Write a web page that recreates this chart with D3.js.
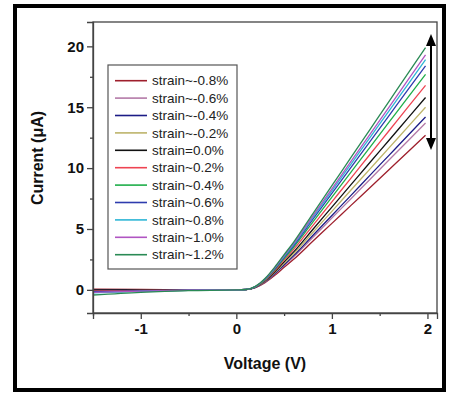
<!DOCTYPE html>
<html><head><meta charset="utf-8">
<script src="https://cdn.jsdelivr.net/npm/d3@7"></script>
<style>body{margin:0;background:#fff}svg{display:block}text{font-family:"Liberation Sans",Arial,sans-serif}</style>
</head><body><svg id="c" width="449" height="395"></svg>
<script>
const voltages = [-1.5, -1.0, -0.5, 0, 0.1, 0.2, 0.3, 0.4, 0.5, 0.6, 0.8, 1.0, 1.2, 1.4, 1.6, 1.8, 1.98];
const seriesNames = ["strain~-0.8%","strain~-0.6%","strain~-0.4%","strain~-0.2%","strain=0.0%","strain~0.2%","strain~0.4%","strain~0.6%","strain~0.8%","strain~1.0%","strain~1.2%"];
const seriesColors = ["#9e1f2c","#b47aa8","#1c1c86","#bdb46a","#111111","#ee4452","#1fae4a","#2e3cae","#2fb6d6","#b055c2","#2a8a55"];
const sM08 = [0.05,0.03,0.02,0,0.02,0.18,0.59,1.18,1.85,2.51,3.99,5.46,6.94,8.41,9.89,11.37,12.7];
const sM06 = [0.0,0,0,0,0.02,0.2,0.64,1.28,1.99,2.71,4.3,5.9,7.49,9.09,10.68,12.27,13.7];
const sM04 = [-0.05,-0.03,0,0,0.02,0.21,0.66,1.32,2.07,2.81,4.46,6.11,7.76,9.42,11.07,12.72,14.2];
const sM02 = [-0.1,-0.05,-0.02,0,0.02,0.22,0.7,1.4,2.18,2.96,4.71,6.45,8.2,9.94,11.68,13.43,15.0];
const s00  = [0.0,0,0,0,0.03,0.23,0.74,1.47,2.3,3.12,4.96,6.8,8.64,10.48,12.31,14.15,15.8];
const sP02 = [-0.1,-0.05,-0.02,0,0.03,0.24,0.78,1.56,2.44,3.32,5.28,7.23,9.18,11.14,13.09,15.05,16.8];
const sP04 = [-0.2,-0.1,-0.03,0,0.03,0.26,0.82,1.65,2.57,3.5,5.56,7.61,9.67,11.73,13.79,15.85,17.7];
const sP06 = [-0.15,-0.08,-0.02,0,0.03,0.27,0.86,1.71,2.68,3.64,5.78,7.92,10.06,12.2,14.34,16.48,18.4];
const sP08 = [-0.25,-0.12,-0.04,0,0.03,0.27,0.88,1.76,2.75,3.74,5.93,8.13,10.33,12.53,14.73,16.92,18.9];
const sP10 = [-0.2,-0.1,-0.03,0,0.03,0.28,0.9,1.8,2.81,3.81,6.06,8.3,10.55,12.79,15.03,17.28,19.3];
const sP12 = [-0.42,-0.2,-0.06,0,0.03,0.29,0.93,1.85,2.89,3.93,6.25,8.56,10.88,13.19,15.5,17.82,19.9];
const seriesValues = [sM08,sM06,sM04,sM02,s00,sP02,sP04,sP06,sP08,sP10,sP12];
const xTicks = [-1, 0, 1, 2];
const xMinor = [-1.5, -0.5, 0.5, 1.5];
const yTicks = [0, 5, 10, 15, 20];
const yMinor = [2.5, 7.5, 12.5, 17.5];

const svg = d3.select("#c");
svg.append("rect").attr("x",15).attr("y",6).attr("width",429).attr("height",384)
  .attr("fill","none").attr("stroke","#000").attr("stroke-width",4);

const L=93,R=437,T=22,B=313;
const x = d3.scaleLinear().domain([-1.5,2.1]).range([L,R]);
const y = d3.scaleLinear().domain([-1.9,22]).range([B,T]);

const g = svg.append("g");
g.append("rect").attr("x",L).attr("y",T).attr("width",R-L).attr("height",B-T)
  .attr("fill","none").attr("stroke","#444").attr("stroke-width",1.3);

const line = d3.line().x((d,i)=>x(voltages[i])).y(d=>y(d)).curve(d3.curveMonotoneX);
seriesValues.forEach((vals,k)=>{
  g.append("path").attr("d",line(vals)).attr("fill","none")
   .attr("stroke",seriesColors[k]).attr("stroke-width",1.3);
});

const xAxis = d3.axisBottom(x).tickValues(xTicks).tickSize(6).tickPadding(4).tickFormat(d3.format("d"));
const xa = svg.append("g").attr("transform",`translate(0,${B})`).call(xAxis);
const yAxis = d3.axisLeft(y).tickValues(yTicks).tickSize(6).tickPadding(3).tickFormat(d3.format("d"));
const ya = svg.append("g").attr("transform",`translate(${L},0)`).call(yAxis);
[xa,ya].forEach(a=>{
  a.select(".domain").attr("stroke","#444").attr("stroke-width",1.3);
  a.selectAll(".tick line").attr("stroke","#444").attr("stroke-width",1.3);
  a.selectAll(".tick text").attr("fill","#111").style("font-size","15px").style("font-weight","bold")
   .style("font-family","'Liberation Sans',Arial,sans-serif");
});
xa.selectAll(".tick text").text(d=> d<0 ? "-"+Math.abs(d) : d);
const xm = svg.append("g").attr("transform",`translate(0,${B})`)
  .call(d3.axisBottom(x).tickValues(xMinor).tickSize(3).tickFormat(""));
const ym = svg.append("g").attr("transform",`translate(${L},0)`)
  .call(d3.axisLeft(y).tickValues(yMinor).tickSize(3).tickFormat(""));
[xm,ym].forEach(a=>{a.select(".domain").remove();a.selectAll(".tick line").attr("stroke","#444").attr("stroke-width",1.3);});

svg.append("text").attr("x",265).attr("y",369).attr("text-anchor","middle")
  .style("font-size","16px").style("font-weight","bold").attr("fill","#111").text("Voltage (V)");
svg.append("text").attr("transform","translate(43,158) rotate(-90)").attr("text-anchor","middle")
  .style("font-size","16px").style("font-weight","bold").attr("fill","#111").text("Current (\u03bcA)");

const lg = svg.append("g");
lg.append("rect").attr("x",108).attr("y",65).attr("width",129).attr("height",204)
  .attr("fill","#fff").attr("stroke","#555").attr("stroke-width",1.2);
seriesNames.forEach((n,k)=>{
  const yy = 80.7 + k*17.4;
  lg.append("line").attr("x1",115).attr("x2",147).attr("y1",yy).attr("y2",yy)
    .attr("stroke",seriesColors[k]).attr("stroke-width",1.6);
  lg.append("text").attr("x",152).attr("y",yy+4.6).style("font-size","13.5px")
    .attr("fill","#222").text(n);
});

const ax = 431;
svg.append("line").attr("x1",ax).attr("x2",ax).attr("y1",42).attr("y2",142)
  .attr("stroke","#000").attr("stroke-width",2);
svg.append("path").attr("d",`M${ax},34 L${ax-5},46 L${ax+5},46 Z`).attr("fill","#000");
svg.append("path").attr("d",`M${ax},150 L${ax-5},138 L${ax+5},138 Z`).attr("fill","#000");
</script></body></html>
